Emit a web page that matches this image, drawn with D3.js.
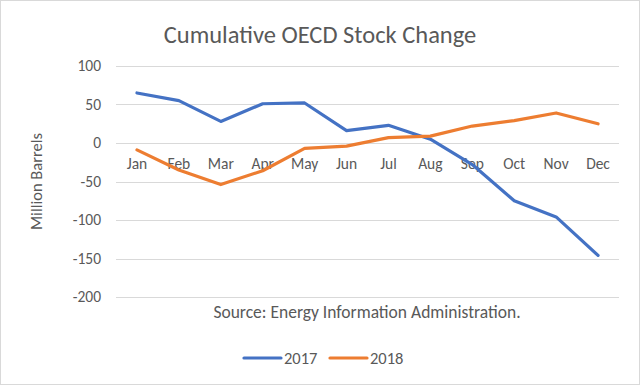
<!DOCTYPE html>
<html>
<head>
<meta charset="utf-8">
<script src="https://cdn.jsdelivr.net/npm/d3@7"></script>
<style>
  body { margin: 0; background: #fff; }
  text { font-family: Carlito, Calibri, "Open Sans", sans-serif; fill: #595959; }
</style>
</head>
<body>
<svg width="640" height="385"></svg>
<script>
var months = ["Jan","Feb","Mar","Apr","May","Jun","Jul","Aug","Sep","Oct","Nov","Dec"];
var series2017 = [65, 55, 28, 51, 52, 16, 23, 5, -28, -75, -96, -146];
var series2018 = [-9, -35, -54, -36, -7, -4, 7, 9, 22, 29, 39, 25];
var yTicks = [100, 50, 0, -50, -100, -150, -200];

var svg = d3.select("svg"),
    width = +svg.attr("width"),
    height = +svg.attr("height");

var margin = {left: 116, right: 21, top: 66, bottom: 88};

svg.append("rect")
    .attr("x", 0.5).attr("y", 0.5)
    .attr("width", width - 1).attr("height", height - 1)
    .attr("fill", "#fff").attr("stroke", "#d9d9d9");

var x = d3.scaleBand().domain(months).range([margin.left, width - margin.right]);
var y = d3.scaleLinear().domain([-200, 100]).range([height - margin.bottom, margin.top]);

// gridlines
svg.append("g")
    .selectAll("line")
    .data(yTicks)
    .enter()
    .append("line")
    .attr("x1", margin.left).attr("x2", width - margin.right)
    .attr("y1", function(d) { return Math.round(y(d)) + 0.5; })
    .attr("y2", function(d) { return Math.round(y(d)) + 0.5; })
    .attr("stroke", "#d9d9d9").attr("stroke-width", 1);

// y labels
svg.append("g")
    .selectAll("text")
    .data(yTicks)
    .enter()
    .append("text")
    .attr("x", 101)
    .attr("y", function(d) { return y(d); })
    .attr("dy", "0.35em")
    .attr("text-anchor", "end")
    .style("font-size", "15.5px")
    .text(function(d) { return d; });

// month labels, sitting just under the zero line
svg.append("g")
    .selectAll("text")
    .data(months)
    .enter()
    .append("text")
    .attr("x", function(d) { return x(d) + x.bandwidth() / 2; })
    .attr("y", y(0) + 26)
    .attr("text-anchor", "middle")
    .style("font-size", "15.5px")
    .text(function(d) { return d; });

var line = d3.line()
    .x(function(d, i) { return x(months[i]) + x.bandwidth() / 2; })
    .y(function(d) { return y(d); });

var series = [
  {name: "2017", values: series2017, color: "#4472C4"},
  {name: "2018", values: series2018, color: "#ED7D31"}
];

svg.append("g")
    .selectAll("path")
    .data(series)
    .enter()
    .append("path")
    .attr("d", function(d) { return line(d.values); })
    .attr("fill", "none")
    .attr("stroke", function(d) { return d.color; })
    .attr("stroke-width", 3.2)
    .attr("stroke-linejoin", "round")
    .attr("stroke-linecap", "round");

// title
svg.append("text")
    .attr("x", 320).attr("y", 43)
    .attr("text-anchor", "middle")
    .style("font-size", "24.5px")
    .text("Cumulative OECD Stock Change");

// y axis title
svg.append("text")
    .attr("transform", "translate(42," + y(-50) + ") rotate(-90)")
    .attr("text-anchor", "middle")
    .style("font-size", "16.5px")
    .text("Million Barrels");

// source note
svg.append("text")
    .attr("x", 367).attr("y", 318)
    .attr("text-anchor", "middle")
    .style("font-size", "17.5px")
    .text("Source: Energy Information Administration.");

// legend
var legend = svg.append("g")
    .selectAll("g")
    .data(series)
    .enter()
    .append("g")
    .attr("transform", function(d, i) { return "translate(" + (244 + i * 86) + ",358)"; });

legend.append("line")
    .attr("x1", 0).attr("x2", 37)
    .attr("stroke", function(d) { return d.color; })
    .attr("stroke-width", 3.2)
    .attr("stroke-linecap", "round");

legend.append("text")
    .attr("x", 40)
    .attr("dy", "0.35em")
    .style("font-size", "16.5px")
    .text(function(d) { return d.name; });
</script>
</body>
</html>
